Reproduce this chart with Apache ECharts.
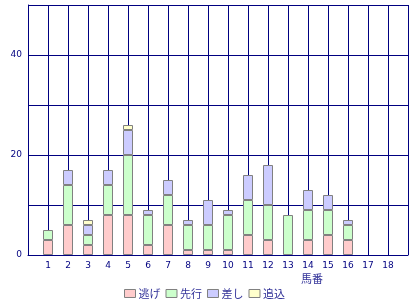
<!DOCTYPE html>
<html><head><meta charset="utf-8">
<script src="https://cdn.jsdelivr.net/npm/echarts@6/dist/echarts.min.js"></script>
<style>html,body{margin:0;padding:0;background:#fff}#c{width:420px;height:300px}</style>
</head><body><div id="c"></div>
<script>
var categories = ['1','2','3','4','5','6','7','8','9','10','11','12','13','14','15','16','17','18'];
var nige   = [3,6,2,8,8,2,6,1,1,1,4,3,0,3,4,3,0,0];
var senko  = [2,8,2,6,12,6,6,5,5,7,7,7,8,6,5,3,0,0];
var sashi  = [0,3,2,3,5,1,3,1,5,1,5,8,0,4,3,1,0,0];
var oikomi = [0,0,1,0,1,0,0,0,0,0,0,0,0,0,0,0,0,0];
var seriesNames = ['逃げ','先行','差し','追込'];
var colors = ['#ffcccc','#ccffcc','#ccccff','#ffffcc'];
var yTickLabels = {0:'0',20:'20',40:'40'};

var axisCats = [''].concat(categories).concat(['']);
function pad(arr){ return [null].concat(arr.map(function(v){return v===0?null:v;})).concat([null]); }
var navy = '#000080';
var chart = echarts.init(document.getElementById('c'));
chart.setOption({
  animation:false,
  title:{text:'馬番', left:296, top:268, textStyle:{fontSize:11, fontWeight:'normal', color:'#333399', fontFamily:'Noto Sans CJK JP'}},
  grid:{left:28, right:12, top:5, bottom:45, outerBoundsMode:'none', containLabel:false},
  legend:{left:119, top:283, itemWidth:11, itemHeight:8, itemGap:5,
    textStyle:{fontSize:11, color:'#333399', fontFamily:'Noto Sans CJK JP', padding:[0,0,0,-2]},
    data:seriesNames.map(function(n){return {name:n, icon:'rect', itemStyle:{borderColor:'#808080', borderWidth:1}};})},
  xAxis:{type:'category', data:axisCats, boundaryGap:false,
    axisLine:{lineStyle:{color:navy, width:1}}, axisTick:{show:false},
    axisLabel:{interval:0, color:navy, fontSize:9, fontFamily:'DejaVu Sans', margin:6},
    splitLine:{show:true, interval:0, lineStyle:{color:navy, width:1}}},
  yAxis:{type:'value', min:0, max:50, interval:10,
    name:'回数', nameLocation:'middle', nameGap:21, nameRotate:90,
    nameTextStyle:{fontSize:10, color:'#333399', fontFamily:'Noto Sans CJK JP'},
    axisLine:{show:true, lineStyle:{color:navy, width:1}}, axisTick:{show:false},
    axisLabel:{color:navy, fontSize:9, fontFamily:'DejaVu Sans', margin:6,
      formatter:function(v){return yTickLabels[v]!==undefined?yTickLabels[v]:'';}},
    splitLine:{show:true, lineStyle:{color:navy, width:1}}},
  series:[nige,senko,sashi,oikomi].map(function(d,i){
    return {name:seriesNames[i], type:'bar', stack:'a', barWidth:10, data:pad(d),
      itemStyle:{color:colors[i], borderColor:'#808080', borderWidth:1}};
  })
});
</script></body></html>
